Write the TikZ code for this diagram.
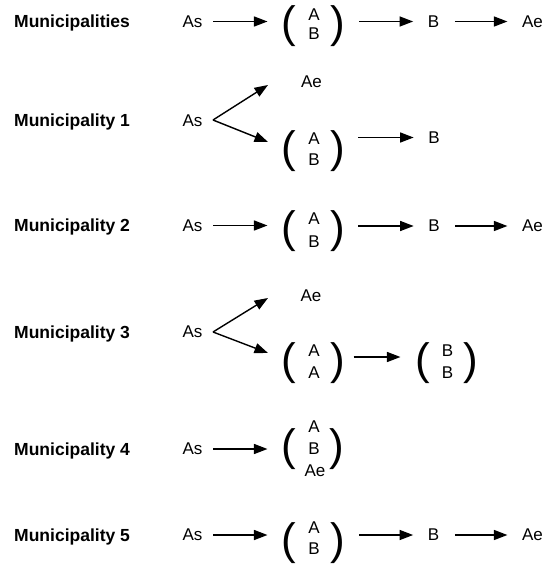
\documentclass[tikz,border=0pt]{standalone}
\usepackage{fontspec}
\setmainfont{Liberation Sans}
\usetikzlibrary{arrows.meta}
\begin{document}
\begin{tikzpicture}[x=1pt,y=-1pt,
  txt/.style={inner sep=0pt, font=\fontsize{17}{20}\selectfont},
  rowlabel/.style={inner sep=0pt, anchor=base west, font=\fontsize{17.5}{21}\selectfont\bfseries},
  paren/.style={inner sep=0pt, font=\fontsize{44}{50}\selectfont},
  arr/.style={line width=1.4pt, -{Triangle[length=13.5pt,width=10pt]}},
  % gaps between a text and the arrows leaving / reaching it
  fromas/.style={shorten <=10.5pt},
  toparen/.style={shorten >=14pt},
  fromparen/.style={shorten <=14pt},
  totext/.style={shorten >=14.5pt},
  fromtext/.style={shorten <=15.5pt},
]
\useasboundingbox (0,0) rectangle (548,565);

% ---------- Municipalities ----------
\node[rowlabel] (l1) at (14,27.5) {Municipalities};
\node[txt] (as1) at (192.5,21.5) {As};
\node[paren] (lp1) at (289,26.5) {(};
\node[txt] (a1) at (314,15) {A};
\node[txt] (b1) at (314,34) {B};
\node[paren] (rp1) at (337.5,26.5) {)};
\node[txt] (bb1) at (433.5,21.5) {B};
\node[txt] (ae1) at (532.5,21.5) {Ae};
\draw[arr,fromas,toparen] (as1.east) -- (as1.east -| lp1.west);
\draw[arr,fromparen,totext] (rp1.east |- bb1) -- (bb1.west);
\draw[arr,fromtext,totext] (bb1.east) -- (ae1.west);

% ---------- Municipality 1 ----------
\node[rowlabel] (l2) at (14,126.5) {Municipality 1};
\node[txt] (as2) at (192.5,121) {As};
\coordinate (v2) at (213,120);
\coordinate (t2u) at (268,85);
\coordinate (t2d) at (268,142);
\node[txt] (ae2) at (311.5,82) {Ae};
\node[paren] (lp2) at (289,151) {(};
\node[txt] (a2) at (314,138.5) {A};
\node[txt] (b2) at (314,160) {B};
\node[paren] (rp2) at (337.5,151) {)};
\node[txt] (bb2) at (434,137.5) {B};
\draw[arr] (v2) -- (t2u);
\draw[arr] (v2) -- (t2d);
\draw[arr,shorten <=13pt,totext] (rp2.east |- bb2) -- (bb2.west);

% ---------- Municipality 2 ----------
\node[rowlabel] (l3) at (14,231.5) {Municipality 2};
\node[txt] (as3) at (192.5,225.5) {As};
\node[paren] (lp3) at (289,231) {(};
\node[txt] (a3) at (314,219) {A};
\node[txt] (b3) at (314,241.5) {B};
\node[paren] (rp3) at (337.5,231) {)};
\node[txt] (bb3) at (434,226) {B};
\node[txt] (ae3) at (532.5,226) {Ae};
\draw[arr,fromas,toparen] (as3.east) -- (as3.east -| lp3.west);
\draw[arr,shorten <=13pt,totext] (rp3.east |- bb3) -- (bb3.west);
\draw[arr,fromtext,totext] (bb3.east) -- (ae3.west);

% ---------- Municipality 3 ----------
\node[rowlabel] (l4) at (14,338) {Municipality 3};
\node[txt] (as4) at (192.5,331.5) {As};
\coordinate (v4) at (213,332);
\coordinate (t4u) at (268,298);
\coordinate (t4d) at (268,353);
\node[txt] (ae4) at (311,296) {Ae};
\node[paren] (lp4) at (289,363) {(};
\node[txt] (a4) at (314,351) {A};
\node[txt] (a4b) at (314,372.5) {A};
\node[paren] (rp4) at (337.5,363) {)};
\node[paren] (lq4) at (423,363) {(};
\node[txt] (b4) at (447.5,351) {B};
\node[txt] (b4b) at (447.5,372.5) {B};
\node[paren] (rq4) at (471,363) {)};
\coordinate (m4) at (0,357);
\draw[arr] (v4) -- (t4u);
\draw[arr] (v4) -- (t4d);
\draw[arr,shorten <=8.5pt,shorten >=15pt] (rp4.east |- m4) -- (lq4.west |- m4);

% ---------- Municipality 4 ----------
\node[rowlabel] (l5) at (14,455) {Municipality 4};
\node[txt] (as5) at (192.5,449) {As};
\node[paren] (lp5) at (289,449) {(};
\node[txt] (a5) at (314,427) {A};
\node[txt] (b5) at (314,449) {B};
\node[txt] (ae5) at (315,471) {Ae};
\node[paren] (rp5) at (337,449) {)};
\draw[arr,fromas,toparen] (as5.east) -- (as5.east -| lp5.west);

% ---------- Municipality 5 ----------
\node[rowlabel] (l6) at (14,541) {Municipality 5};
\node[txt] (as6) at (192.5,535) {As};
\node[paren] (lp6) at (289,543) {(};
\node[txt] (a6) at (314,528) {A};
\node[txt] (b6) at (314,549) {B};
\node[paren] (rp6) at (337.5,543) {)};
\node[txt] (bb6) at (433.5,535) {B};
\node[txt] (ae6) at (532.5,535) {Ae};
\draw[arr,fromas,toparen] (as6.east) -- (as6.east -| lp6.west);
\draw[arr,fromparen,totext] (rp6.east |- bb6) -- (bb6.west);
\draw[arr,fromtext,totext] (bb6.east) -- (ae6.west);
\end{tikzpicture}
\end{document}
